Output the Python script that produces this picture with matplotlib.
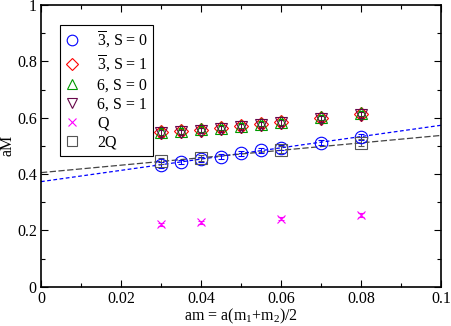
import matplotlib
matplotlib.use('Agg')
import matplotlib.pyplot as plt
from matplotlib.lines import Line2D
from matplotlib.ticker import MultipleLocator, FormatStrFormatter

plt.rcParams['font.family'] = ['Liberation Serif', 'DejaVu Serif']
plt.rcParams['mathtext.fontset'] = 'custom'
plt.rcParams['mathtext.rm'] = 'Liberation Serif'
plt.rcParams['mathtext.it'] = 'Liberation Serif:italic'

# data
am = [0.03, 0.035, 0.04, 0.045, 0.05, 0.055, 0.06, 0.07, 0.08]
m_3bar_s0 = [0.432, 0.442, 0.452, 0.462, 0.473, 0.484, 0.494, 0.511, 0.532]
m_3bar_s1 = [0.548, 0.551, 0.557, 0.563, 0.570, 0.577, 0.583, 0.599, 0.613]
m_6_s0 = [0.550, 0.553, 0.559, 0.565, 0.572, 0.579, 0.585, 0.601, 0.615]
m_6_s1 = [0.545, 0.548, 0.554, 0.560, 0.567, 0.574, 0.580, 0.596, 0.610]
err_3bar = [0.012, 0.008, 0.008, 0.008, 0.008, 0.008, 0.008, 0.008, 0.010]
err_6 = [0.012, 0.010, 0.010, 0.010, 0.010, 0.010, 0.010, 0.010, 0.010]

am_q = [0.03, 0.04, 0.06, 0.08]
m_q = [0.221, 0.229, 0.242, 0.255]
m_2q = [0.446, 0.456, 0.486, 0.511]
err_q = [0.006, 0.006, 0.006, 0.006]
err_2q = [0.012, 0.010, 0.012, 0.012]

fit_x = [0.0, 0.1]
fit_3bar = [0.373, 0.573]
fit_2q = [0.405, 0.537]

blue = '#0000ff'
red = '#ff0000'
green = '#009900'
maroon = '#67074a'
magenta = '#ff00ff'
grey = '#555555'

fig = plt.figure(figsize=(4.52, 3.26), dpi=100)
ax = fig.add_axes([41 / 452, 39.3 / 326, 400 / 452, 281.7 / 326])

ax.plot(fit_x, fit_3bar, '--', color=blue, lw=0.9, dashes=(3, 2))
ax.plot(fit_x, fit_2q, '--', color='#444444', lw=0.9, dashes=(5, 2))

kw = dict(ls='none', mfc='none', mew=0.8, capsize=2.5, elinewidth=0.7, capthick=0.7)
series = [
    (am, m_3bar_s0, err_3bar, 'o', 9, blue, r'$\overline{3}$, S = 0'),
    (am, m_3bar_s1, err_6, 'D', 7.5, red, r'$\overline{3}$, S = 1'),
    (am, m_6_s0, err_6, '^', 9, green, '6, S = 0'),
    (am, m_6_s1, err_6, 'v', 9, maroon, '6, S = 1'),
    (am_q, m_q, err_q, 'x', 6, magenta, 'Q'),
    (am_q, m_2q, err_2q, 's', 8, grey, '2Q'),
]
handles = []
for x, y, e, mk, ms, col, lab in series:
    ax.errorbar(x, y, yerr=e, marker=mk, ms=ms, color=col, **kw)
    handles.append(Line2D([], [], ls='none', marker=mk, ms=ms * 0.85, mfc='none', mew=0.8,
                          color=col, label=lab))

ax.set_xlim(0, 0.1)
ax.set_ylim(0, 1)
ax.xaxis.set_major_locator(MultipleLocator(0.02))
ax.xaxis.set_minor_locator(MultipleLocator(0.01))
ax.yaxis.set_major_locator(MultipleLocator(0.2))
ax.yaxis.set_minor_locator(MultipleLocator(0.1))
ax.xaxis.set_major_formatter(FormatStrFormatter('%g'))
ax.yaxis.set_major_formatter(FormatStrFormatter('%g'))
ax.tick_params(which='both', direction='in', top=True, right=True, labelsize=11.5, pad=3)
ax.tick_params(which='major', length=5, width=0.8)
ax.tick_params(which='minor', length=3, width=0.8)
for s in ax.spines.values():
    s.set_linewidth(1.2)

ax.set_xlabel(r'am = a(m$_1$+m$_2$)/2', fontsize=11.5, labelpad=0)
ax.set_ylabel('aM', fontsize=11.5, labelpad=1)

leg = ax.legend(handles=handles, loc='upper left', bbox_to_anchor=(0.048, 0.93), fontsize=11.5,
                frameon=True, fancybox=False, edgecolor='black', framealpha=1,
                handlelength=0.9, handletextpad=1.1, borderpad=0.3, labelspacing=0.2,
                borderaxespad=0)
leg.get_frame().set_linewidth(0.8)

plt.savefig('out.png', dpi=100)
